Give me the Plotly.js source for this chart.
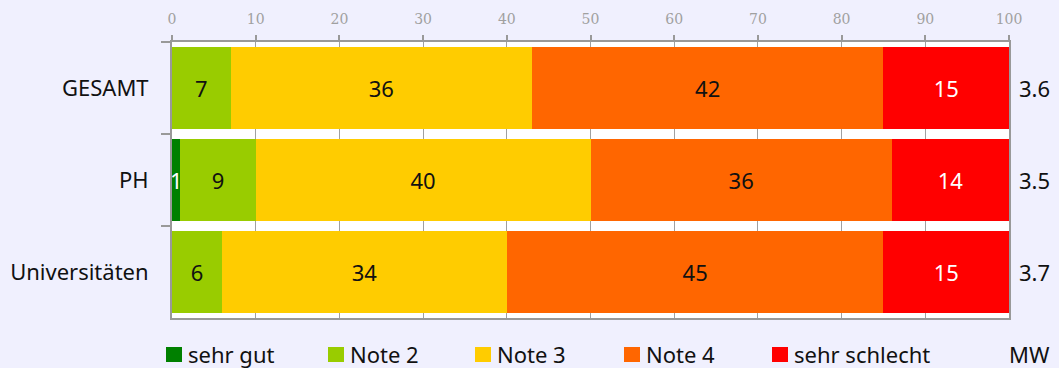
<!DOCTYPE html>
<html>
<head>
<meta charset="utf-8">
<script src="https://cdn.plot.ly/plotly-3.0.1.min.js"></script>
<style>
html,body{margin:0;padding:0;background:#F0F0FE;}
#chart{width:1059px;height:368px;}
</style>
</head>
<body>
<div id="chart"></div>
<script>
const categories = ["GESAMT", "PH", "Universitäten"];
const seriesNames = ["sehr gut", "Note 2", "Note 3", "Note 4", "sehr schlecht"];
const sehrGut = [0, 1, 0];
const note2 = [7, 9, 6];
const note3 = [36, 40, 34];
const note4 = [42, 36, 45];
const sehrSchlecht = [15, 14, 15];
const mw = ["3.6", "3.5", "3.7"];
const xTicks = [0, 10, 20, 30, 40, 50, 60, 70, 80, 90, 100];

const seriesValues = [sehrGut, note2, note3, note4, sehrSchlecht];
const colors = ["#008000", "#99CC00", "#FFCC00", "#FF6600", "#FF0000"];
const textColors = ["#FFFFFF", "#111111", "#111111", "#111111", "#FFFFFF"];
const FONT = "Noto Sans, DejaVu Sans, sans-serif";
const FS = 22;

const traces = seriesValues.map((vals, i) => ({
  type: "bar",
  orientation: "h",
  name: seriesNames[i],
  y: categories,
  x: vals,
  marker: {color: colors[i], line: {width: 0}},
  text: vals.map(v => v > 0 ? String(v) : ""),
  textposition: "inside",
  insidetextanchor: "middle",
  constraintext: "none",
  textfont: {family: FONT, size: FS, color: textColors[i]},
  showlegend: false,
  hoverinfo: "name+x"
}));

const L = 172, R = 1009, T = 42, B = 318;
const pw = R - L, ph = B - T;
const px = v => (v - L) / pw;
const py = v => (B - v) / ph;

const legendSquares = [166, 328, 475, 624, 772];
const shapes = [];
const annotations = [];
seriesNames.forEach((n, i) => {
  const x0 = legendSquares[i];
  shapes.push({
    type: "rect", xref: "paper", yref: "paper",
    x0: px(x0), x1: px(x0 + 16), y0: py(362), y1: py(347),
    fillcolor: colors[i], line: {width: 0}
  });
  annotations.push({
    xref: "paper", yref: "paper", x: px(x0 + 20), y: py(354),
    xanchor: "left", yanchor: "middle", showarrow: false,
    text: n, font: {family: FONT, size: FS, color: "#111"}
  });
});
annotations.push({
  xref: "paper", yref: "paper", x: px(1007), y: py(354),
  xanchor: "left", yanchor: "middle", showarrow: false,
  text: "MW", font: {family: FONT, size: FS, color: "#111"}
});
categories.forEach((c, i) => {
  annotations.push({
    xref: "paper", yref: "y", x: 1, y: c, xshift: 8,
    xanchor: "left", yanchor: "middle", showarrow: false,
    text: mw[i], font: {family: FONT, size: FS, color: "#111"}
  });
});

const layout = {
  width: 1059, height: 368,
  margin: {l: L, r: 1059 - R, t: T, b: 368 - B, pad: 0},
  paper_bgcolor: "#F0F0FE",
  plot_bgcolor: "#FFFFFF",
  barmode: "stack",
  bargap: 0.1,
  showlegend: false,
  xaxis: {
    side: "top", range: [0, 100], tickvals: xTicks,
    ticks: "outside", ticklen: 5, tickwidth: 2, tickcolor: "#999",
    showline: true, linecolor: "#999", linewidth: 2, mirror: true,
    showgrid: true, gridcolor: "#A0A0A0", gridwidth: 1,
    zeroline: false,
    ticklabelstandoff: 5,
    tickfont: {family: "DejaVu Serif, Liberation Serif, serif", size: 14, color: "#A0A0A0"},
    fixedrange: true
  },
  yaxis: {
    autorange: "reversed", type: "category",
    ticks: "outside", tickson: "boundaries", ticklen: 9, tickwidth: 2, tickcolor: "#999",
    showline: true, linecolor: "#999", linewidth: 2, mirror: true,
    showgrid: false, zeroline: false,
    ticklabelstandoff: 17,
    tickfont: {family: FONT, size: FS, color: "#111"},
    fixedrange: true
  },
  shapes: shapes,
  annotations: annotations,
  font: {family: FONT}
};

Plotly.newPlot("chart", traces, layout, {displayModeBar: false, staticPlot: true});
</script>
</body>
</html>
